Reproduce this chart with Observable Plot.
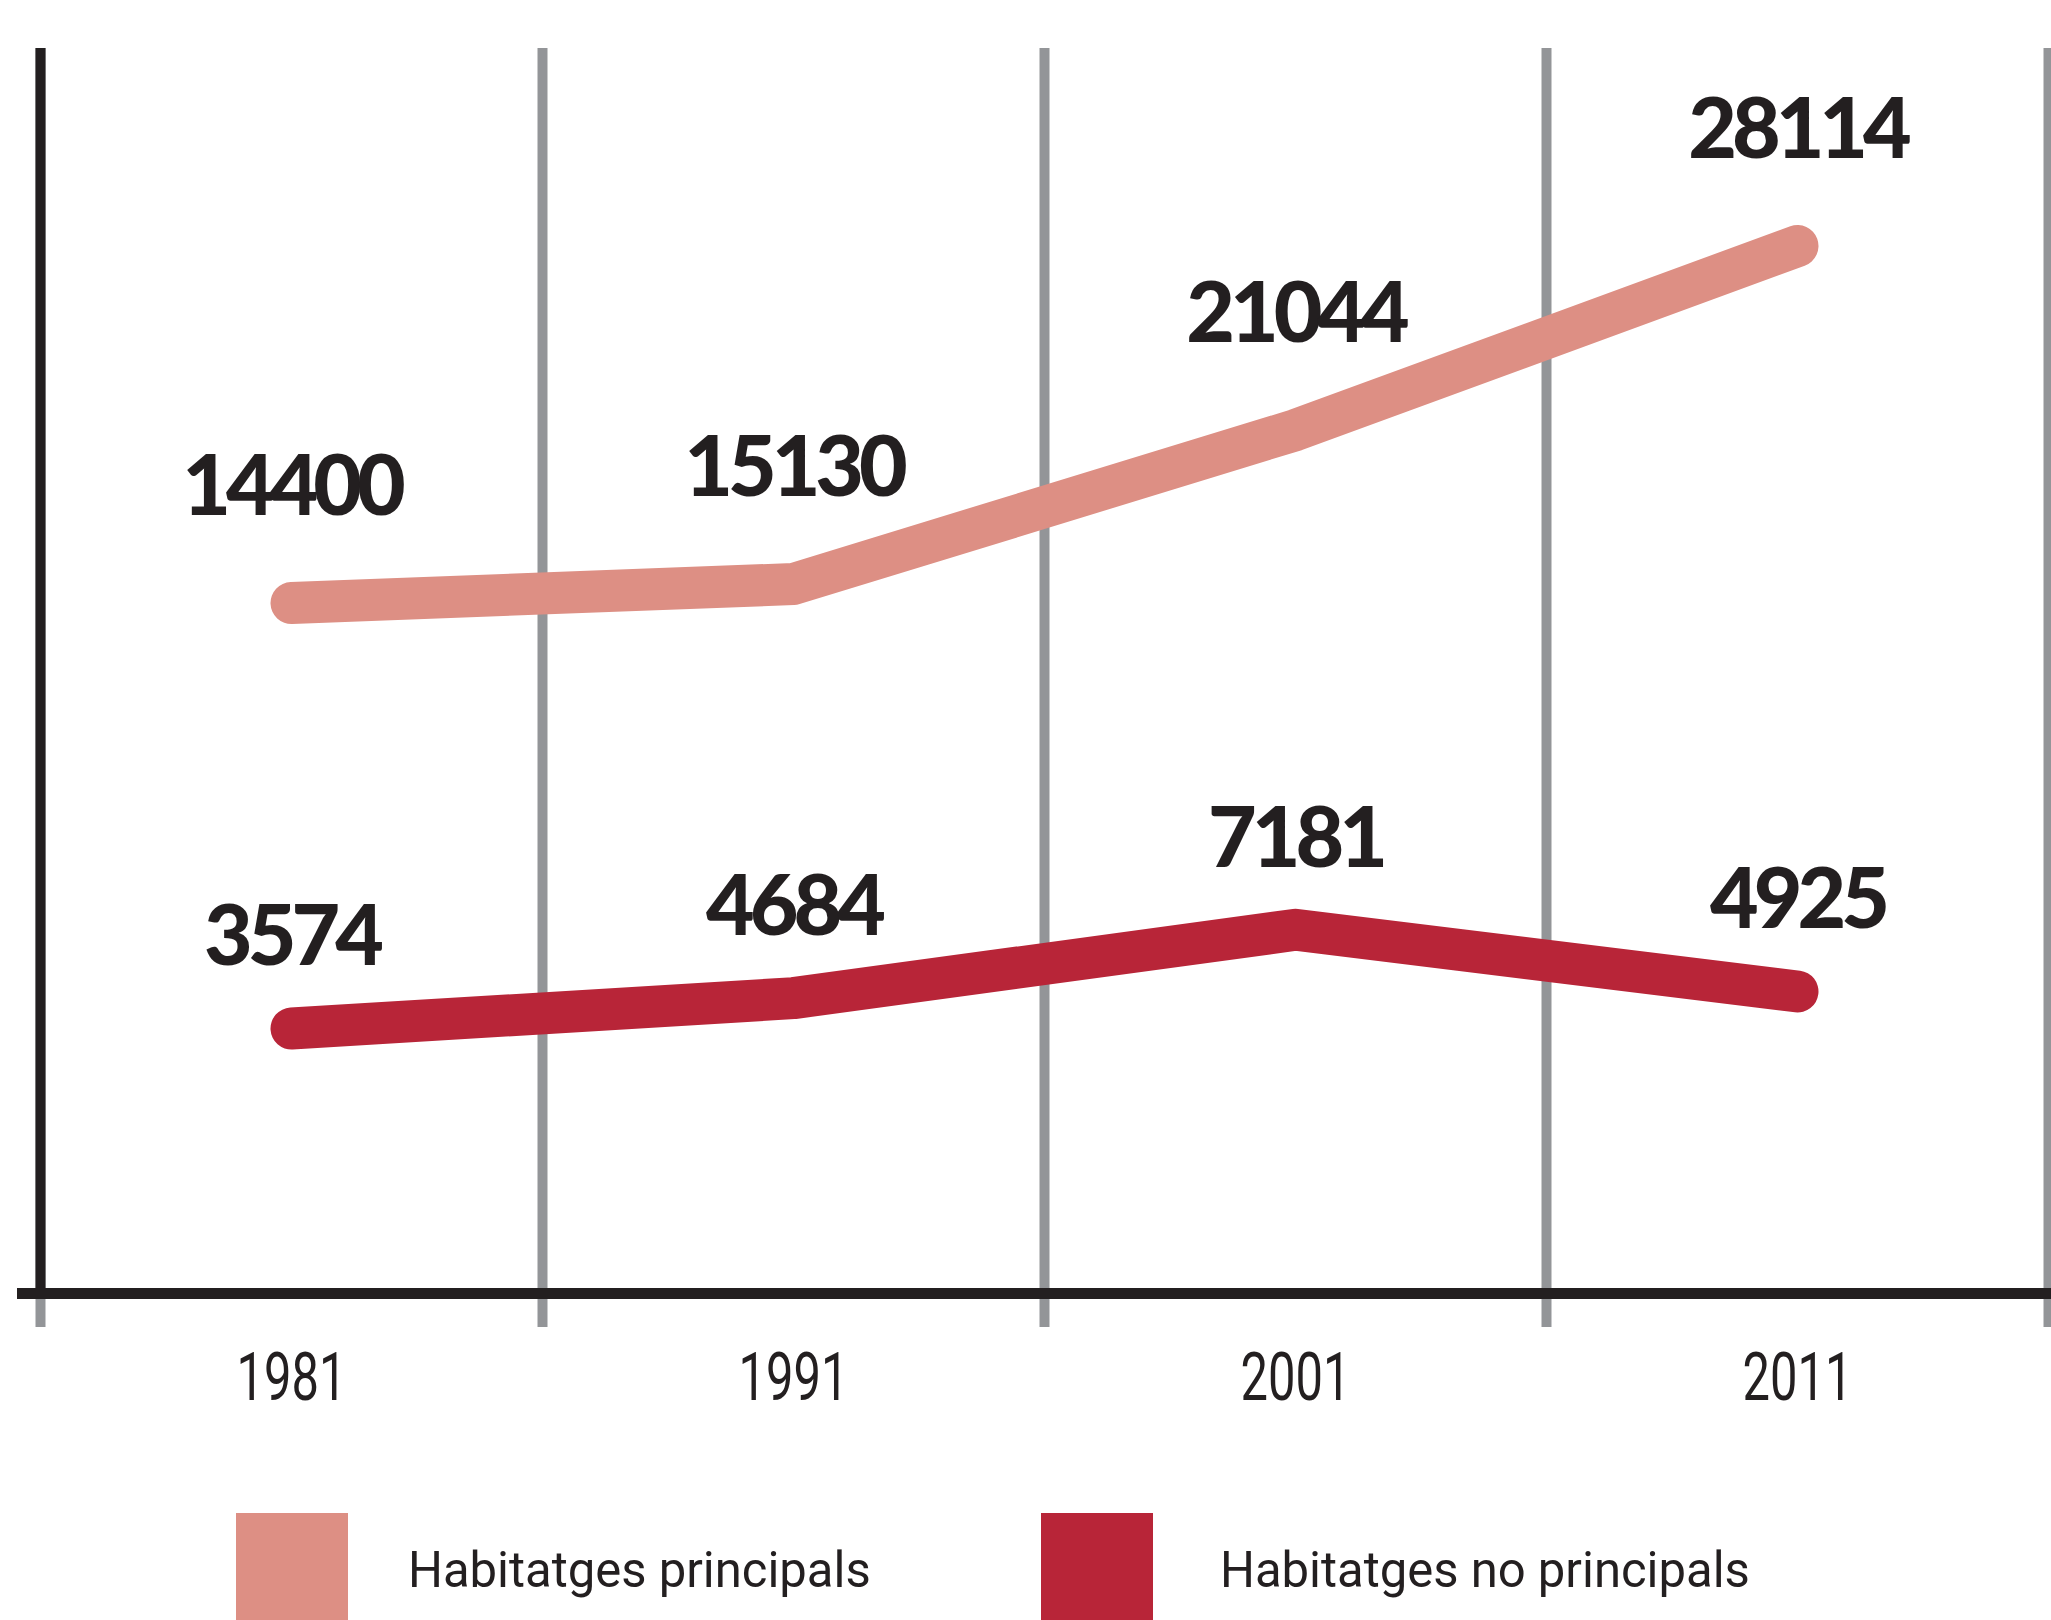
<!DOCTYPE html>
<html><head><meta charset="utf-8">
<script src="https://cdn.jsdelivr.net/npm/d3@7"></script>
<script src="https://cdn.jsdelivr.net/npm/@observablehq/plot@0.6"></script>
<style>
body{margin:0;background:#fff;}
#wrap{position:relative;width:2051px;height:1620px;overflow:hidden;background:#fff;}
#wrap svg{position:absolute;left:0;top:0;max-width:none;}
.sw{position:absolute;top:1513px;width:112px;height:140px;}
.lt{position:absolute;top:1540px;font-family:Roboto,"Open Sans",sans-serif;font-size:50px;color:#231F20;line-height:60px;white-space:nowrap;transform:scaleX(0.98);transform-origin:left center;}
</style></head>
<body><div id="wrap"></div>
<script>
const years = [1981, 1991, 2001, 2011];
const principals = [14400, 15130, 21044, 28114];
const noPrincipals = [3574, 4684, 7181, 4925];
const gridYears = [1976, 1986, 1996, 2006, 2016];
const seriesNames = ["Habitatges principals", "Habitatges no principals"];
const seriesColors = ["#DD8F84", "#B82538"];

const W = 2051, H = 1500;
const ink = "#231F20", grey = "#939598";
const valFont = "Lato, 'Open Sans', sans-serif";
const yearFont = "Roboto, 'Open Sans', sans-serif";
const xScale = {type: "linear", domain: [1976, 2016], range: [40, 2048]};
const common = {width: W, height: H, marginTop: 48, marginBottom: 207, marginLeft: 22, marginRight: 0};

const p1 = Plot.plot({
  ...common,
  x: {...xScale},
  y: {domain: [0, 30000], range: [977.4, 196.4], axis: null},
  style: {background: "transparent"},
  marks: [
    Plot.ruleX(gridYears, {x: d => d, stroke: grey, strokeWidth: 10}),
    Plot.axisX({ticks: gridYears, tickSize: 34, tickFormat: () => "", stroke: grey, strokeWidth: 10}),
    Plot.ruleX([gridYears[0]], {x: d => d, stroke: ink, strokeWidth: 10}),
    Plot.frame({anchor: "bottom", stroke: ink, strokeWidth: 11}),
    Plot.axisX({ticks: years, tickSize: 0, tickPadding: 59, tickFormat: d => String(d),
      fontSize: 67, fontFamily: yearFont, fill: ink}),
    Plot.line(principals, {x: years, y: principals, stroke: seriesColors[0], strokeWidth: 42,
      strokeLinecap: "round", strokeLinejoin: "round"}),
    Plot.text(principals, {x: years, y: principals, text: d => String(d), dy: -115,
      fontSize: 84, fontWeight: 900, fontFamily: valFont, fill: ink})
  ]
});

const p2 = Plot.plot({
  ...common,
  x: {...xScale, axis: null},
  y: {domain: [0, 10000], range: [1125.9, 852.05], axis: null},
  style: {background: "transparent"},
  marks: [
    Plot.line(noPrincipals, {x: years, y: noPrincipals, stroke: seriesColors[1], strokeWidth: 42,
      strokeLinecap: "round", strokeLinejoin: "round"}),
    Plot.text(noPrincipals, {x: years, y: noPrincipals, text: d => String(d), dy: -90,
      fontSize: 84, fontWeight: 900, fontFamily: valFont, fill: ink})
  ]
});

const wrap = document.getElementById("wrap");
wrap.appendChild(p1);
wrap.appendChild(p2);
for (const s of [p1, p2]) {
  d3.select(s).selectAll('g[aria-label="text"] text').style("letter-spacing", "-5px");
}
// condense the year tick labels horizontally
d3.select(p1).selectAll('g[aria-label="x-axis tick label"] text').each(function() {
  const t = d3.select(this);
  const tr = t.attr("transform");
  if (tr) {
    t.attr("transform", tr + " scale(0.73,1)");
  } else {
    const x = +t.attr("x") || 0, y = +t.attr("y") || 0;
    t.attr("x", null).attr("y", null).attr("transform", `translate(${x},${y}) scale(0.73,1)`);
  }
});

// legend
const swX = [236, 1041], txX = [408, 1220];
seriesNames.forEach((name, i) => {
  const sw = document.createElement("div");
  sw.className = "sw"; sw.style.left = swX[i] + "px"; sw.style.background = seriesColors[i];
  wrap.appendChild(sw);
  const t = document.createElement("div");
  t.className = "lt"; t.style.left = txX[i] + "px"; t.textContent = name;
  wrap.appendChild(t);
});
</script>
</body></html>
